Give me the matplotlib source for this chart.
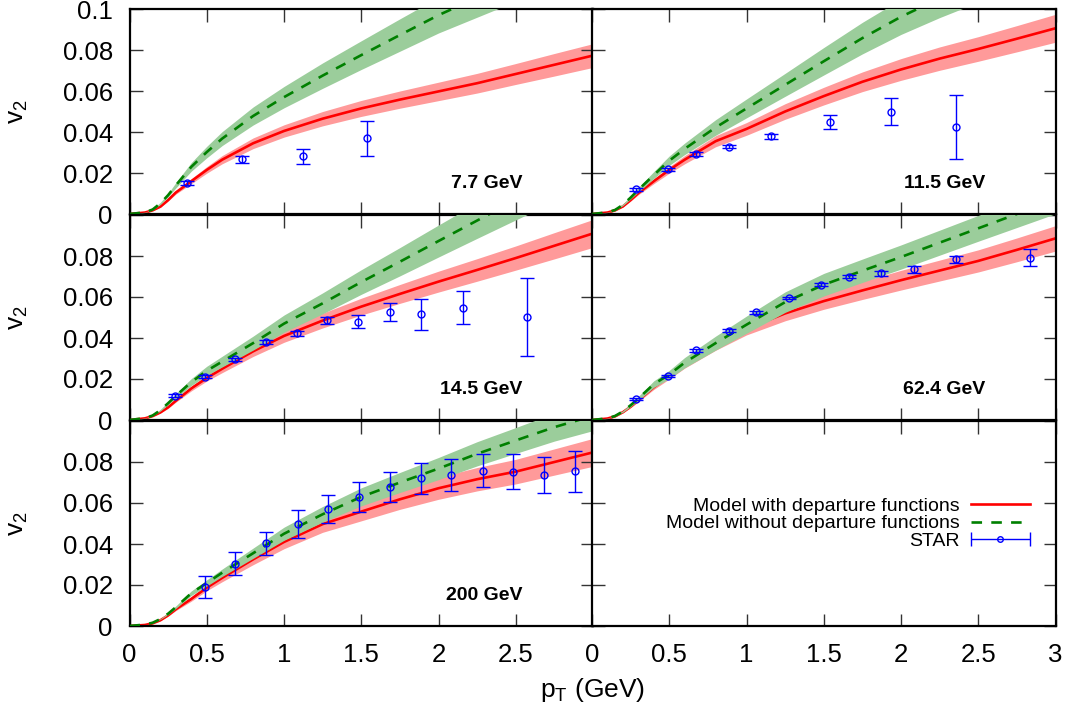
import numpy as np
import matplotlib.pyplot as plt
from matplotlib.container import ErrorbarContainer
from matplotlib.legend_handler import HandlerErrorbar

plt.rcParams['font.family'] = ['Liberation Sans', 'DejaVu Sans']
plt.rcParams['mathtext.fontset'] = 'custom'
plt.rcParams['mathtext.rm'] = 'Liberation Sans'
plt.rcParams['mathtext.it'] = 'Liberation Sans:italic'

# model grid (pT in GeV)
pt = [0, 0.1, 0.15, 0.2, 0.25, 0.3, 0.4, 0.5, 0.6, 0.8, 1.0, 1.25, 1.5, 1.75, 2.0, 2.25, 2.5, 2.75, 3.0]

# 7.7 GeV
red_77 = [0, 0.0007, 0.0018, 0.0036, 0.0068, 0.0105, 0.016, 0.0215, 0.0265, 0.0345, 0.0405, 0.0465, 0.0515, 0.0558, 0.0598, 0.0638, 0.0683, 0.0728, 0.0773]
red_77_w = [0, 0.0001, 0.0001, 0.0003, 0.0005, 0.0008, 0.0012, 0.0016, 0.002, 0.0026, 0.003, 0.0035, 0.0039, 0.0042, 0.0045, 0.0048, 0.0051, 0.0055, 0.0058]
grn_77 = [0, 0.0008, 0.0022, 0.0052, 0.0092, 0.014, 0.023, 0.0302, 0.0368, 0.0478, 0.057, 0.0675, 0.0775, 0.0873, 0.097, 0.1055, 0.114, 0.122, 0.13]
grn_77_w = [0, 0.0001, 0.0002, 0.0005, 0.0008, 0.0013, 0.0021, 0.0028, 0.0034, 0.0044, 0.0052, 0.0062, 0.007, 0.0079, 0.0087, 0.0095, 0.0103, 0.011, 0.0117]
star_77_x = [0.37, 0.73, 1.12, 1.54]
star_77_y = [0.0151, 0.0267, 0.0281, 0.0369]
star_77_e = [0.001, 0.0017, 0.0037, 0.0085]

# 11.5 GeV
red_115 = [0, 0.0007, 0.0018, 0.0037, 0.0068, 0.0102, 0.016, 0.0215, 0.0265, 0.0355, 0.0415, 0.050, 0.0575, 0.0645, 0.0705, 0.0758, 0.0805, 0.0855, 0.0906]
red_115_w = [0, 0.0001, 0.0001, 0.0003, 0.0005, 0.0008, 0.0012, 0.0016, 0.002, 0.0027, 0.0031, 0.0038, 0.0043, 0.0048, 0.0053, 0.0057, 0.006, 0.0064, 0.0068]
grn_115 = [0, 0.0008, 0.002, 0.0045, 0.008, 0.0118, 0.019, 0.026, 0.0318, 0.0422, 0.0515, 0.063, 0.0745, 0.0858, 0.0962, 0.1052, 0.1135, 0.1215, 0.1295]
grn_115_w = [0, 0.0001, 0.0002, 0.0004, 0.0007, 0.0011, 0.0017, 0.0023, 0.0028, 0.0038, 0.0046, 0.0056, 0.0067, 0.0077, 0.0086, 0.0094, 0.0102, 0.0109, 0.0116]
star_115_x = [0.285, 0.495, 0.674, 0.888, 1.158, 1.542, 1.935, 2.356]
star_115_y = [0.012, 0.0218, 0.0291, 0.0328, 0.038, 0.045, 0.0499, 0.0424]
star_115_e = [0.0006, 0.0007, 0.001, 0.0008, 0.0012, 0.0033, 0.0067, 0.0155]

# 14.5 GeV
red_145 = [0, 0.0008, 0.0019, 0.0037, 0.0062, 0.0094, 0.0154, 0.0205, 0.025, 0.0335, 0.041, 0.0485, 0.0553, 0.0615, 0.0675, 0.0732, 0.079, 0.085, 0.091]
red_145_w = [0, 0.0001, 0.0001, 0.0003, 0.0005, 0.0007, 0.0012, 0.0015, 0.0019, 0.0025, 0.0031, 0.0036, 0.0041, 0.0046, 0.0051, 0.0055, 0.0059, 0.0064, 0.0068]
grn_145 = [0, 0.0009, 0.0022, 0.0048, 0.0082, 0.0118, 0.0185, 0.024, 0.0285, 0.0375, 0.047, 0.0569, 0.0673, 0.0772, 0.0873, 0.0973, 0.1072, 0.117, 0.127]
grn_145_w = [0, 0.0001, 0.0002, 0.0004, 0.0007, 0.0011, 0.0017, 0.0022, 0.0026, 0.0034, 0.0042, 0.0051, 0.006, 0.0069, 0.0078, 0.0087, 0.0096, 0.0105, 0.0114]
star_145_x = [0.294, 0.488, 0.682, 0.881, 1.081, 1.28, 1.48, 1.685, 1.886, 2.159, 2.573]
star_145_y = [0.0119, 0.0211, 0.0296, 0.038, 0.0423, 0.0486, 0.048, 0.0527, 0.0515, 0.0548, 0.0501]
star_145_e = [0.0006, 0.0007, 0.0008, 0.001, 0.0013, 0.0016, 0.0031, 0.0043, 0.0075, 0.0079, 0.019]

# 62.4 GeV
red_624 = [0, 0.0007, 0.0018, 0.0038, 0.0065, 0.0096, 0.016, 0.0215, 0.0272, 0.0365, 0.0445, 0.052, 0.058, 0.0632, 0.0682, 0.0729, 0.0776, 0.083, 0.0886]
red_624_w = [0, 0, 0.0001, 0.0003, 0.0005, 0.0007, 0.0011, 0.0015, 0.0019, 0.0025, 0.003, 0.0036, 0.004, 0.0044, 0.0048, 0.0051, 0.0054, 0.0058, 0.0062]
grn_624 = [0, 0.0008, 0.002, 0.0042, 0.0072, 0.0105, 0.0175, 0.0222, 0.028, 0.0375, 0.0465, 0.0575, 0.066, 0.0728, 0.0795, 0.0865, 0.0935, 0.1005, 0.1075]
grn_624_w = [0, 0.0001, 0.0002, 0.0004, 0.0007, 0.001, 0.0016, 0.002, 0.0025, 0.0034, 0.0042, 0.005, 0.0055, 0.0057, 0.0059, 0.0061, 0.0063, 0.0066, 0.0069]
star_624_x = [0.285, 0.495, 0.674, 0.888, 1.063, 1.276, 1.484, 1.661, 1.87, 2.082, 2.356, 2.838]
star_624_y = [0.0102, 0.0216, 0.034, 0.0436, 0.0525, 0.0595, 0.066, 0.0699, 0.0715, 0.0735, 0.0783, 0.0791]
star_624_e = [0.0005, 0.0005, 0.0008, 0.0006, 0.0006, 0.0006, 0.0006, 0.0008, 0.0014, 0.0018, 0.0019, 0.0042]

# 200 GeV
red_200 = [0, 0.0005, 0.0013, 0.0028, 0.0052, 0.0082, 0.0132, 0.0187, 0.0235, 0.0325, 0.041, 0.0497, 0.0558, 0.0618, 0.0672, 0.0716, 0.0753, 0.080, 0.0847]
red_200_w = [0, 0, 0.0001, 0.0002, 0.0004, 0.0007, 0.0011, 0.0015, 0.0019, 0.0026, 0.0033, 0.004, 0.0045, 0.0049, 0.0054, 0.0057, 0.006, 0.0064, 0.0068]
grn_200 = [0, 0.0007, 0.0016, 0.0034, 0.006, 0.0092, 0.016, 0.021, 0.026, 0.0355, 0.045, 0.0545, 0.063, 0.070, 0.0768, 0.084, 0.0905, 0.097, 0.1025]
grn_200_w = [0, 0, 0.0001, 0.0002, 0.0004, 0.0006, 0.0011, 0.0015, 0.0018, 0.0025, 0.0032, 0.0038, 0.0044, 0.0049, 0.0054, 0.0059, 0.0063, 0.0068, 0.0072]
star_200_x = [0.488, 0.682, 0.881, 1.088, 1.286, 1.485, 1.685, 1.886, 2.084, 2.285, 2.483, 2.681, 2.882]
star_200_y = [0.0192, 0.0304, 0.0403, 0.0496, 0.0571, 0.0629, 0.0678, 0.072, 0.0735, 0.0758, 0.0753, 0.0737, 0.0754]
star_200_e = [0.0053, 0.0056, 0.0057, 0.0068, 0.007, 0.0072, 0.0073, 0.0076, 0.0078, 0.008, 0.0085, 0.0089, 0.0098]

labels = ['7.7 GeV', '11.5 GeV', '14.5 GeV', '62.4 GeV', '200 GeV']
panels = [
    (red_77, red_77_w, grn_77, grn_77_w, star_77_x, star_77_y, star_77_e),
    (red_115, red_115_w, grn_115, grn_115_w, star_115_x, star_115_y, star_115_e),
    (red_145, red_145_w, grn_145, grn_145_w, star_145_x, star_145_y, star_145_e),
    (red_624, red_624_w, grn_624, grn_624_w, star_624_x, star_624_y, star_624_e),
    (red_200, red_200_w, grn_200, grn_200_w, star_200_x, star_200_y, star_200_e),
]

W, H = 1067, 719
fig = plt.figure(figsize=(W / 100, H / 100), dpi=100)
lefts = [129.5, 592]
bottoms = [214, 420, 626]   # pixel rows of panel bottoms
axw = 463.5
axh = 205

ax = []
for r in range(3):
    for c in range(2):
        a = fig.add_axes([lefts[c] / W, 1 - bottoms[r] / H, axw / W, axh / H])
        ax.append(a)

x = np.array(pt)
for i, (red, rw, grn, gw, sx, sy, se) in enumerate(panels):
    a = ax[i]
    red = np.array(red); rw = np.array(rw)
    grn = np.array(grn); gw = np.array(gw)
    a.fill_between(x, red - rw, red + rw, color='#ff9a9a', lw=0, zorder=1)
    a.plot(x, red, color='#ff0000', lw=1.9, zorder=2)
    a.fill_between(x, grn - gw, grn + gw, color='#9bcd9b', lw=0, zorder=3)
    a.plot(x, grn, color='#008000', lw=1.9, ls=(0, (4, 3.5)), zorder=4)
    a.errorbar(sx, sy, yerr=se, fmt='o', color='#0000ff', mfc='none', ms=5,
               mew=1, elinewidth=1, capsize=5, capthick=1, zorder=5)
    a.text(0.848, 0.15, labels[i], transform=a.transAxes, ha='right',
           va='center', fontsize=14, fontweight='bold')

# legend panel
a = ax[5]
a.plot([], [], color='#ff0000', lw=1.9, label='Model with departure functions')
a.plot([], [], color='#008000', lw=1.9, ls=(0, (4, 3.5)), label='Model without departure functions')
a.errorbar([np.nan], [np.nan], xerr=[np.nan], fmt='o', color='#0000ff', mfc='none',
           ms=4, mew=1, elinewidth=1, capsize=5, capthick=1, label='STAR')
a.legend(loc='center right', bbox_to_anchor=(0.944, 0.5), frameon=False,
         markerfirst=False, fontsize=14, handlelength=3.0, handletextpad=0.6,
         labelspacing=0.0, borderpad=0, borderaxespad=0,
         handler_map={ErrorbarContainer: HandlerErrorbar(xerr_size=1.5)})

yt = [0, 0.02, 0.04, 0.06, 0.08, 0.1]
xt = [0, 0.5, 1, 1.5, 2, 2.5, 3]
for i, a in enumerate(ax):
    r, c = divmod(i, 2)
    a.set_xlim(0, 3)
    a.set_ylim(0, 0.1)
    a.set_xticks(xt)
    a.set_yticks(yt)
    for s in a.spines.values():
        s.set_linewidth(1.6)
    a.tick_params(direction='in', length=9, width=1, color='#333333',
                  top=True, right=True, labelsize=18.5, pad=12)
    if c == 0:
        if r == 0:
            a.set_yticklabels(['0', '0.02', '0.04', '0.06', '0.08', '0.1'])
        else:
            a.set_yticklabels(['0', '0.02', '0.04', '0.06', '0.08', ''])
        a.set_ylabel('v$_{\\rm 2}$', fontsize=19)
        a.yaxis.set_label_coords(-0.215, 0.5)
    else:
        a.set_yticklabels([])
    if r == 2:
        if c == 0:
            a.set_xticklabels(['0', '0.5', '1', '1.5', '2', '2.5', ''])
        else:
            a.set_xticklabels(['0', '0.5', '1', '1.5', '2', '2.5', '3'])
    else:
        a.set_xticklabels([])

fig.text(593 / W, 1 - 690 / H, 'p$_{\\rm T}$ (GeV)', ha='center', va='center', fontsize=19)

fig.savefig('out.png', dpi=100)
